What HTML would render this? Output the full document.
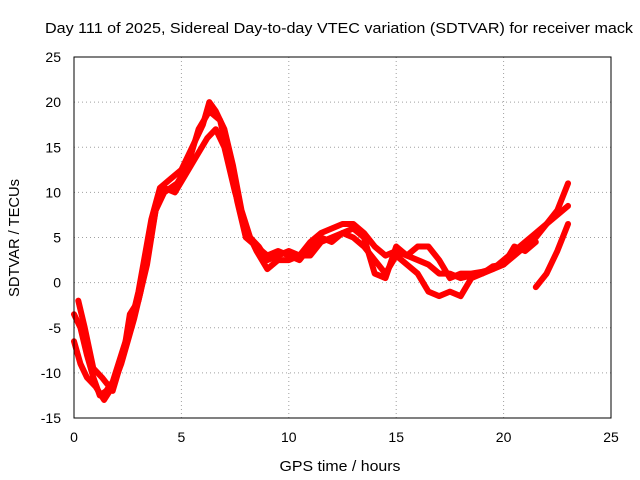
<!DOCTYPE html>
<html><head><meta charset="utf-8"><style>
body{margin:0;background:#fff;}
svg{display:block;font-family:"Liberation Sans",Arial,sans-serif;}
</style></head><body>
<svg id="chart" width="640" height="480">
<text x="339" y="33" font-size="15" text-anchor="middle" textLength="588" lengthAdjust="spacingAndGlyphs">Day 111 of 2025, Sidereal Day-to-day VTEC variation (SDTVAR) for receiver mack</text>
<text x="340" y="471" font-size="15" text-anchor="middle" textLength="121" lengthAdjust="spacingAndGlyphs">GPS time / hours</text>
<text transform="translate(19,238) rotate(-90)" font-size="15" text-anchor="middle" textLength="118" lengthAdjust="spacingAndGlyphs">SDTVAR / TECUs</text>
<g id="grid"></g><g id="ticks"></g><g id="series"></g>
<rect x="74" y="57" width="537" height="361" fill="none" stroke="#000" stroke-width="1"/>
</svg>
<script>
const xTicks=[0,5,10,15,20,25];
const yTicks=[-15,-10,-5,0,5,10,15,20,25];
const s1=[[0,-3.5],[0.3,-5],[0.6,-8],[0.9,-10.5],[1.2,-12.5],[1.5,-12],[1.8,-11],[2.2,-8],[2.6,-5],[3,-1],[3.3,3],[3.6,7],[4,10.5],[4.5,11.5],[5,12.5],[5.5,15],[6,17.5],[6.3,20],[6.6,19],[7,17],[7.4,13],[7.8,8],[8.2,5],[8.6,4],[9,2.5],[9.5,3],[10,3.5],[10.5,3],[11,4.5],[11.5,5.5],[12,6],[12.5,6.5],[13,6.5],[13.5,5.5],[14,4],[14.5,3],[15,3.5],[15.5,3],[16,2.5],[16.5,2],[17,1],[17.5,1],[18,0.5],[18.5,0.8],[19,1],[19.5,1.5],[20,2.5],[20.5,3.5],[21,4.5],[21.5,5.5],[22,6.5],[22.5,8],[23,11]];
const s2=[[0,-6.5],[0.3,-9],[0.6,-10.5],[1,-11.5],[1.4,-13],[1.8,-11.5],[2.2,-9],[2.5,-6.5],[2.8,-4],[3.1,-1],[3.5,4],[3.8,8],[4.2,10.5],[4.7,10],[5.2,12],[5.7,14],[6.2,16],[6.6,17],[7,15],[7.5,10],[8,6],[8.5,3.5],[9,1.5],[9.5,2.5],[10,2.5],[10.5,3],[11,3],[11.5,4.5],[12,5],[12.5,5.5],[13,5],[13.5,4],[14,2.5],[14.5,1],[15,3],[15.5,2],[16,1],[16.5,-1],[17,-1.5],[17.5,-1],[18,-1.5],[18.5,0.5],[19,1],[19.5,1.8],[20,2],[20.5,3],[21,4],[21.5,5],[22,6.5],[22.5,7.5],[23,8.5]];
const s3=[[0.2,-2],[0.5,-5],[0.9,-9.5],[1.3,-10.5],[1.8,-12],[2.3,-8],[2.6,-3.5],[3,-2],[3.4,2],[3.8,8],[4.2,10],[4.8,11],[5.3,13],[5.8,17],[6.3,19],[6.8,18],[7.2,14],[7.6,9],[8,5],[8.5,4],[9,3],[9.5,3.5],[10,3],[10.5,2.5],[11,4],[11.5,5],[12,4.5],[12.5,5.5],[13,6],[13.5,5],[14,1],[14.5,0.5],[15,4],[15.5,3],[16,4],[16.5,4],[17,2.5],[17.5,0.5],[18,1],[18.5,1],[19,1.2],[19.5,1.5],[20,2],[20.5,4],[21,3.5],[21.5,4.5]];
const s4=[[21.5,-0.5],[22,1],[22.5,3.5],[23,6.5]];
const X=v=>74+v*(537/25), Y=v=>418-(v+15)*(361/40);
const NS="http://www.w3.org/2000/svg";
function mk(tag,attrs,parent){const e=document.createElementNS(NS,tag);for(const k in attrs)e.setAttribute(k,attrs[k]);parent.appendChild(e);return e;}
const grid=document.getElementById('grid'),tk=document.getElementById('ticks'),sg=document.getElementById('series');
xTicks.forEach(t=>{
 const l=mk('line',{x1:X(t),x2:X(t),y1:57,y2:418,stroke:'#a0a0a0','stroke-dasharray':'1,3'},grid);
 
 
 const tx=mk('text',{x:X(t),y:442,'font-size':14,'text-anchor':'middle'},tk);tx.textContent=t;
 
 
});
yTicks.forEach(t=>{
 const l=mk('line',{x1:74,x2:611,y1:Y(t),y2:Y(t),stroke:'#a0a0a0','stroke-dasharray':'1,3'},grid);
 
 
 const tx=mk('text',{x:61,y:Y(t)+5,'font-size':14,'text-anchor':'end'},tk);tx.textContent=t;
 
 
});
[s1,s2,s3,s4].forEach((s,i)=>{
 const p=mk('polyline',{points:s.map(d=>X(d[0])+','+Y(d[1])).join(' '),fill:'none',stroke:'#ff0000','stroke-width':6,'stroke-linejoin':'round','stroke-linecap':'round'},sg);
 
 
});
</script>
</body></html>
